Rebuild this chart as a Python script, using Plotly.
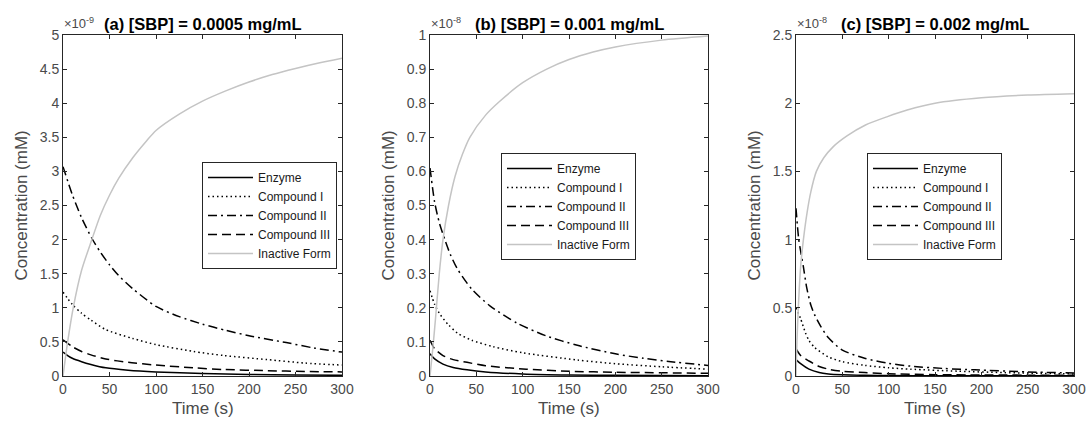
import plotly.graph_objects as go

W, H = 1087, 423

# ---------------- data (concentrations in units of the axis multiplier) ----------------
# Panel (a): [SBP] = 0.0005 mg/mL, values x 1e-9 mM
a_enz_t = [0, 5, 10, 20, 30, 46, 70, 100, 150, 200, 250, 300]
a_enz_v = [0.35, 0.30, 0.26, 0.21, 0.17, 0.12, 0.085, 0.06, 0.035, 0.022, 0.015, 0.01]
a_c1_t = [0, 10, 20, 30, 46, 75, 100, 140, 173, 220, 260, 300]
a_c1_v = [1.23, 1.05, 0.92, 0.82, 0.68, 0.55, 0.46, 0.36, 0.30, 0.24, 0.19, 0.16]
a_c2_t = [0, 10, 20, 31, 40, 50, 60, 75, 100, 125, 150, 175, 200, 240, 270, 300]
a_c2_v = [3.07, 2.66, 2.32, 2.02, 1.82, 1.63, 1.47, 1.28, 1.02, 0.87, 0.76, 0.67, 0.59, 0.49, 0.41, 0.35]
a_c3_t = [0, 10, 20, 30, 46, 70, 100, 140, 173, 220, 260, 300]
a_c3_v = [0.53, 0.43, 0.36, 0.31, 0.25, 0.2, 0.16, 0.12, 0.095, 0.078, 0.066, 0.06]
a_in_t = [0, 5, 11, 20, 31, 40, 50, 60, 75, 90, 100, 125, 150, 175, 200, 225, 250, 275, 300]
a_in_v = [0.0, 0.5, 1.0, 1.55, 2.0, 2.35, 2.65, 2.9, 3.2, 3.45, 3.6, 3.84, 4.03, 4.18, 4.31, 4.42, 4.51, 4.59, 4.66]

# Panel (b): [SBP] = 0.001 mg/mL, values x 1e-8 mM
b_enz_t = [0, 5, 14, 25, 40, 60, 100, 150, 200, 300]
b_enz_v = [0.065, 0.05, 0.035, 0.025, 0.018, 0.012, 0.006, 0.003, 0.002, 0.001]
b_c1_t = [0, 5, 11, 20, 30, 45, 68, 100, 159, 200, 250, 300]
b_c1_v = [0.25, 0.21, 0.18, 0.15, 0.125, 0.105, 0.086, 0.068, 0.047, 0.036, 0.027, 0.02]
b_c2_t = [0, 5, 10, 16, 22, 30, 45, 65, 94, 125, 159, 200, 230, 260, 300]
b_c2_v = [0.61, 0.51, 0.45, 0.4, 0.356, 0.312, 0.255, 0.205, 0.155, 0.118, 0.09, 0.065, 0.052, 0.042, 0.031]
b_c3_t = [0, 5, 14, 25, 40, 60, 104, 150, 200, 300]
b_c3_v = [0.105, 0.08, 0.06, 0.048, 0.04, 0.03, 0.02, 0.014, 0.011, 0.008]
b_in_t = [0, 3, 6, 10, 14, 20, 27, 35, 43, 60, 75, 100, 126, 150, 176, 200, 250, 300]
b_in_v = [0.0, 0.08, 0.17, 0.3, 0.4, 0.5, 0.585, 0.65, 0.7, 0.765, 0.805, 0.86, 0.9, 0.928, 0.95, 0.965, 0.985, 0.997]

# Panel (c): [SBP] = 0.002 mg/mL, values x 1e-8 mM
c_enz_t = [0, 5, 14, 25, 35, 50, 74, 100, 150, 300]
c_enz_v = [0.12, 0.09, 0.05, 0.025, 0.015, 0.009, 0.005, 0.003, 0.002, 0.001]
c_c1_t = [0, 5, 10, 14, 20, 35, 50, 74, 100, 124, 175, 225, 300]
c_c1_v = [0.5, 0.42, 0.32, 0.26, 0.21, 0.14, 0.105, 0.078, 0.06, 0.05, 0.035, 0.025, 0.015]
c_c2_t = [0, 3, 8, 11.5, 16, 20, 27, 35, 50, 74, 100, 124, 160, 193, 250, 300]
c_c2_v = [1.23, 1.0, 0.8, 0.65, 0.52, 0.45, 0.36, 0.28, 0.19, 0.13, 0.093, 0.072, 0.055, 0.045, 0.03, 0.022]
c_c3_t = [0, 5, 14, 25, 35, 50, 74, 100, 150, 300]
c_c3_v = [0.2, 0.15, 0.11, 0.07, 0.05, 0.035, 0.025, 0.017, 0.01, 0.005]
c_in_t = [0, 1, 2.5, 5, 8, 12, 16, 22, 30, 40, 55, 75, 98, 120, 150, 200, 250, 300]
c_in_v = [0.0, 0.25, 0.5, 0.8, 1.0, 1.2, 1.35, 1.5, 1.6, 1.68, 1.76, 1.84, 1.9, 1.95, 2.0, 2.04, 2.06, 2.07]

series_names = ["Enzyme", "Compound I", "Compound II", "Compound III", "Inactive Form"]
titles = ["(a) [SBP] = 0.0005 mg/mL", "(b) [SBP] = 0.001 mg/mL", "(c) [SBP] = 0.002 mg/mL"]
exponents = ["-9", "-8", "-8"]
x_ticks = [0, 50, 100, 150, 200, 250, 300]
a_y_ticks = [0, 0.5, 1, 1.5, 2, 2.5, 3, 3.5, 4, 4.5, 5]
b_y_ticks = [0, 0.1, 0.2, 0.3, 0.4, 0.5, 0.6, 0.7, 0.8, 0.9, 1]
c_y_ticks = [0, 0.5, 1, 1.5, 2, 2.5]

panels = [
    dict(data=[(a_enz_t, a_enz_v), (a_c1_t, a_c1_v), (a_c2_t, a_c2_v), (a_c3_t, a_c3_v), (a_in_t, a_in_v)],
         yticks=a_y_ticks, yrange=[0, 5], px=(63, 342), legend=(202, 162)),
    dict(data=[(b_enz_t, b_enz_v), (b_c1_t, b_c1_v), (b_c2_t, b_c2_v), (b_c3_t, b_c3_v), (b_in_t, b_in_v)],
         yticks=b_y_ticks, yrange=[0, 1], px=(430, 708), legend=(501, 153)),
    dict(data=[(c_enz_t, c_enz_v), (c_c1_t, c_c1_v), (c_c2_t, c_c2_v), (c_c3_t, c_c3_v), (c_in_t, c_in_v)],
         yticks=c_y_ticks, yrange=[0, 2.5], px=(796, 1074), legend=(867, 153)),
]

styles = [
    dict(color="#000000", width=1.5, dash="solid"),
    dict(color="#000000", width=1.5, dash="1.5px,3px"),
    dict(color="#000000", width=1.5, dash="9px,4px,2px,4px"),
    dict(color="#000000", width=1.5, dash="9px,5px"),
    dict(color="#c4c4c4", width=1.5, dash="solid"),
]

FONT = "Liberation Sans, Arial, Helvetica, sans-serif"
AXC = "#262626"
TICKC = "#4a4a4a"
TOP, BOT = 35, 376

fig = go.Figure()
layout = dict(
    width=W, height=H,
    margin=dict(l=0, r=0, t=0, b=0),
    paper_bgcolor="white", plot_bgcolor="white",
    font=dict(family=FONT, color=TICKC, size=14),
    annotations=[],
)

for i, p in enumerate(panels):
    k = "" if i == 0 else str(i + 1)
    xa, ya = "x" + k, "y" + k
    lg = "legend" if i == 0 else "legend" + str(i + 1)
    for j, (t, v) in enumerate(p["data"]):
        fig.add_trace(go.Scatter(
            x=t, y=v, mode="lines", name=series_names[j],
            line=dict(shape="spline", smoothing=0.7, **styles[j]),
            xaxis=xa, yaxis=ya, legend=lg, showlegend=True,
        ))
    x0, x1 = p["px"]
    layout["xaxis" + k] = dict(
        domain=[x0 / W, x1 / W], anchor=ya, range=[0, 300], tickvals=x_ticks,
        ticks="inside", ticklen=4, tickcolor=AXC, showline=True, linecolor=AXC, linewidth=1,
        mirror="ticks", showgrid=False, zeroline=False, automargin=False,
        tickfont=dict(size=14, color=TICKC, family=FONT),
    )
    layout["yaxis" + k] = dict(
        domain=[1 - BOT / H, 1 - TOP / H], anchor=xa, range=p["yrange"], tickvals=p["yticks"],
        ticks="inside", ticklen=4, tickcolor=AXC, showline=True, linecolor=AXC, linewidth=1,
        mirror="ticks", showgrid=False, zeroline=False, automargin=False,
        tickfont=dict(size=14, color=TICKC, family=FONT),
    )
    lx, ly = p["legend"]
    layout[lg] = dict(
        x=lx / W, y=1 - ly / H, xanchor="left", yanchor="top",
        xref="paper", yref="paper",
        bgcolor="white", bordercolor=AXC, borderwidth=1,
        font=dict(size=12, color="#1a1a1a", family=FONT),
        itemwidth=45, tracegroupgap=0,
    )
    cx = (x0 + x1) / 2
    layout["annotations"] += [
        dict(text="<b>" + titles[i] + "</b>", x=cx / W, y=1 - 24 / H, xref="paper", yref="paper",
             xanchor="center", yanchor="middle", showarrow=False,
             font=dict(size=16.5, color="#000000", family=FONT)),
        dict(text="×10<sup>" + exponents[i] + "</sup>", x=(x0 - 1) / W, y=1 - (TOP - 2) / H,
             xref="paper", yref="paper", xanchor="left", yanchor="bottom", showarrow=False,
             font=dict(size=13, color=TICKC, family=FONT)),
        dict(text="Time (s)", x=cx / W, y=1 - 408 / H, xref="paper", yref="paper",
             xanchor="center", yanchor="middle", showarrow=False,
             font=dict(size=17, color=TICKC, family=FONT)),
        dict(text="Concentration (mM)", x=(x0 - 42) / W, y=1 - ((TOP + BOT) / 2) / H,
             xref="paper", yref="paper", xanchor="center", yanchor="middle", textangle=-90,
             showarrow=False, font=dict(size=17, color=TICKC, family=FONT)),
    ]

fig.update_layout(**layout)
fig.write_html("out.html")
